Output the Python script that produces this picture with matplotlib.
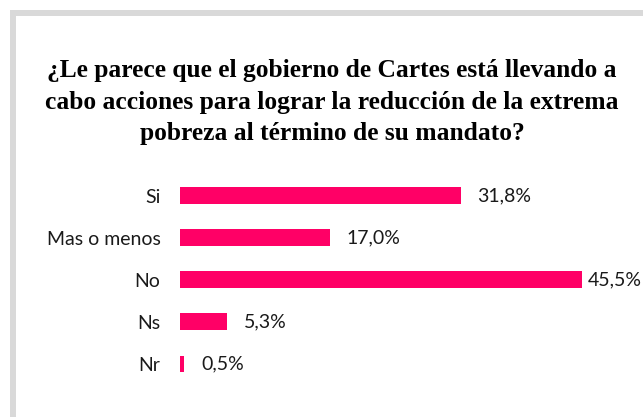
import matplotlib
matplotlib.use("Agg")
import matplotlib.pyplot as plt
from matplotlib.patches import Rectangle

categories = ["Si", "Mas o menos", "No", "Ns", "Nr"]
values = [31.8, 17.0, 45.5, 5.3, 0.5]
value_labels = ["31,8%", "17,0%", "45,5%", "5,3%", "0,5%"]
title = ("¿Le parece que el gobierno de Cartes está llevando a\n"
         "cabo acciones para lograr la reducción de la extrema\n"
         "pobreza al término de su mandato?")

bar_color = "#FF0066"
W, H = 643, 417

fig = plt.figure(figsize=(W / 100, H / 100), dpi=100)

# gray frame (only top and left visible, rest is cropped)
fig.patches.append(Rectangle((10 / W, 0), 6 / W, 1 - 10 / H, transform=fig.transFigure,
                             facecolor="#D9D9D9", edgecolor="none"))
fig.patches.append(Rectangle((10 / W, 1 - 16 / H), 1 - 10 / W, 6 / H, transform=fig.transFigure,
                             facecolor="#D9D9D9", edgecolor="none"))

fig.text(332 / W, 1 - 102 / H, title, ha="center", va="center", fontsize=18.4,
         fontweight="bold", family="Liberation Serif", linespacing=1.45)

left = 180 / W
top = 1 - 174.5 / H
bottom = 1 - 385 / H
ax = fig.add_axes([left, bottom, 1 - left, top - bottom])
ax.set_facecolor("none")

ypos = list(range(len(categories)))
ax.barh(ypos, values, height=0.4, color=bar_color)
ax.set_ylim(len(categories) - 0.5, -0.5)
ax.set_xlim(0, (W - 180) / 8.83)
ax.set_yticks(ypos)
ax.set_yticklabels(categories, fontsize=14, family="Lato", color="#1a1a1a")
ax.tick_params(axis="y", length=0, pad=14)
ax.set_xticks([])
for s in ax.spines.values():
    s.set_visible(False)

fig.canvas.draw()
renderer = fig.canvas.get_renderer()
for y, v, lab in zip(ypos, values, value_labels):
    t = ax.annotate(lab, (v, y), xytext=(12, 0), textcoords="offset points",
                    ha="left", va="center", fontsize=14, family="Lato", color="#1a1a1a")
    bb = t.get_window_extent(renderer)
    if bb.x1 > W - 1:
        t.set_position((12 - (bb.x1 - W + 1) * 0.72, 0))

fig.savefig("out.png", dpi=100)
